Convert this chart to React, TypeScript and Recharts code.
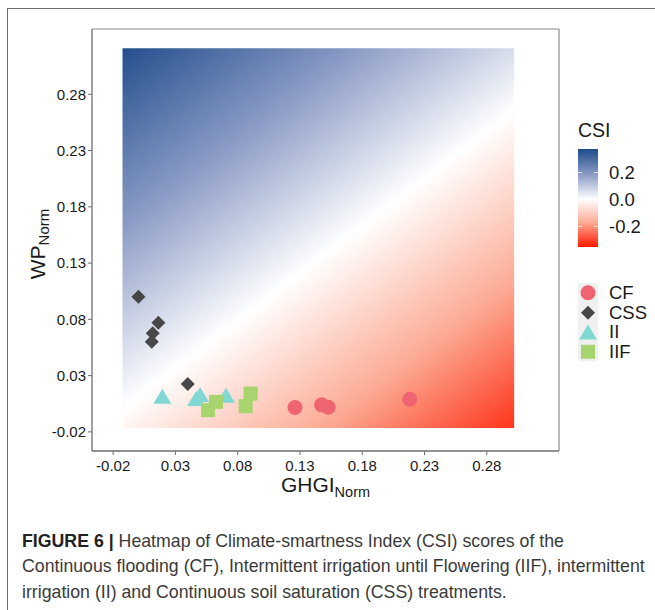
import React, { useLayoutEffect, useRef, useState } from 'react'
import { ScatterChart, Scatter, XAxis, YAxis, ReferenceArea } from 'recharts'

// treatment points (GHGI_Norm, WP_Norm)
const cfGhgi = [0.126, 0.1474, 0.1527, 0.2182]
const cfWp = [0.0016, 0.004, 0.0019, 0.009]
const cssGhgi = [0.0003, 0.0163, 0.0118, 0.011, 0.0399]
const cssWp = [0.1001, 0.077, 0.0676, 0.0601, 0.0226]
const iiGhgi = [0.0195, 0.0466, 0.0498, 0.0706]
const iiWp = [0.0113, 0.0093, 0.0128, 0.012]
const iifGhgi = [0.0562, 0.0626, 0.0864, 0.0904]
const iifWp = [-0.0007, 0.0066, 0.0028, 0.014]

const treatments = ['CF', 'CSS', 'II', 'IIF']
const axisTicks = [-0.02, 0.03, 0.08, 0.13, 0.18, 0.23, 0.28]
const borderTicks = [-0.02, 0.005, 0.03, 0.055, 0.08, 0.105, 0.13, 0.155, 0.18, 0.205, 0.23, 0.255, 0.28, 0.305, 0.33]
const domain: [number, number] = [-0.037, 0.338]

// heatmap extent and CSI at its top-left / bottom-right corners
const heatGhgi = [-0.0125, 0.302]
const heatWp = [-0.0165, 0.3208]
const heatCsi = [0.36, -0.317]

// colour scale of CSI
const csiValues = [0.368, 0.18, 0, -0.17, -0.35]
const csiColors = ['#1e4c8a', '#8c9cc6', '#ffffff', '#fcab95', '#ff1a00']
const csiRange = [0.368, -0.35]
const csiTicks = [0.2, 0, -0.2]

const captionLines = [
  'Heatmap of Climate-smartness Index (CSI) scores of the',
  'Continuous flooding (CF), Intermittent irrigation until Flowering (IIF), intermittent',
  'irrigation (II) and Continuous soil saturation (CSS) treatments.',
]

const COLORS = { CF: '#ee6470', CSS: '#474747', II: '#80d7d3', IIF: '#a7d46c' }

const hex = (c: string) => [1, 3, 5].map((i) => parseInt(c.slice(i, i + 2), 16))
function colorAt(v: number) {
  for (let i = 0; i < csiValues.length - 1; i++) {
    const a = csiValues[i]
    const b = csiValues[i + 1]
    if (v <= a && v >= b) {
      const t = (a - v) / (a - b)
      const ca = hex(csiColors[i])
      const cb = hex(csiColors[i + 1])
      return `rgb(${ca.map((x, k) => Math.round(x + (cb[k] - x) * t)).join(',')})`
    }
  }
  return v > csiValues[0] ? csiColors[0] : csiColors[csiColors.length - 1]
}

const heatStops = [heatCsi[0], ...csiValues.filter((v) => v < heatCsi[0] && v > heatCsi[1]), heatCsi[1]]

const toPts = (xs: number[], ys: number[]) => xs.map((x, i) => ({ x, y: ys[i] }))

const Circle = (p: any) => <circle cx={p.cx} cy={p.cy} r={7.5} fill={COLORS.CF} />
const Diamond = (p: any) => (
  <polygon points={`${p.cx},${p.cy - 7} ${p.cx + 7},${p.cy} ${p.cx},${p.cy + 7} ${p.cx - 7},${p.cy}`} fill={COLORS.CSS} />
)
const Triangle = (p: any) => (
  <polygon points={`${p.cx},${p.cy - 8} ${p.cx + 9},${p.cy + 7} ${p.cx - 9},${p.cy + 7}`} fill={COLORS.II} />
)
const Square = (p: any) => <rect x={p.cx - 7} y={p.cy - 7} width={14} height={14} fill={COLORS.IIF} />

const font = "'Liberation Sans', Arial, sans-serif"
const tickStyle = { fontSize: 15, fill: '#1a1a1a', fontFamily: font }

function LegendKey({ name }: { name: string }) {
  return (
    <svg width={20} height={19.5} style={{ display: 'block', background: '#f0f0f0' }}>
      {name === 'CF' && <Circle cx={10} cy={9.75} />}
      {name === 'CSS' && <Diamond cx={10} cy={9.75} />}
      {name === 'II' && <Triangle cx={10} cy={10.5} />}
      {name === 'IIF' && <Square cx={10} cy={9.75} />}
    </svg>
  )
}

// caption squeezed so the full-width line spans 22..645
function Caption() {
  const ref = useRef<SVGTextElement>(null)
  const [sx, setSx] = useState(1)
  useLayoutEffect(() => {
    if (ref.current) setSx(623 / ref.current.getComputedTextLength())
  }, [])
  return (
    <g transform={`translate(22,0) scale(${sx},1)`} fontFamily={font} fontSize={18} fill="#3a3a3a">
      <text x={0} y={547}>
        <tspan fontWeight="bold" fill="#222">FIGURE 6 | </tspan>
        {captionLines[0]}
      </text>
      <text ref={ref} x={0} y={572.5}>{captionLines[1]}</text>
      <text x={0} y={598}>{captionLines[2]}</text>
    </g>
  )
}

export default function App() {
  const barTop = 149.3
  const barH = 98
  const barY = (v: number) => barTop + ((csiRange[0] - v) / (csiRange[0] - csiRange[1])) * barH
  return (
    <div style={{ position: 'absolute', left: 0, top: 0, width: 655, height: 610, background: '#fff', overflow: 'hidden', fontFamily: font }}>
      <div style={{ position: 'absolute', left: 6.5, top: 8, width: 660, height: 610, borderLeft: '1.5px solid #6f6f6f', borderTop: '1.5px solid #6f6f6f' }} />
      <ScatterChart width={655} height={610} margin={{ top: 29, right: 96, bottom: 129, left: 32 }} style={{ position: 'absolute', left: 0, top: 0 }}>
        <defs>
          <linearGradient id="csiHeat" x1={0} y1={0} x2={0.868} y2={1.104}>
            {heatStops.map((v) => (
              <stop key={v} offset={(heatCsi[0] - v) / (heatCsi[0] - heatCsi[1])} stopColor={colorAt(v)} />
            ))}
          </linearGradient>
        </defs>
        <XAxis dataKey="x" type="number" domain={domain} ticks={axisTicks} allowDataOverflow height={30}
          tickFormatter={(v) => v.toFixed(2)} tick={tickStyle} tickSize={4} tickMargin={5}
          stroke="#6e6e6e" axisLine={{ stroke: '#6e6e6e', strokeWidth: 1.3 }} tickLine={{ stroke: '#6e6e6e' }} />
        <YAxis dataKey="y" type="number" domain={domain} ticks={axisTicks} allowDataOverflow width={60}
          tickFormatter={(v) => v.toFixed(2)} tick={tickStyle} tickSize={4} tickMargin={2}
          stroke="#6e6e6e" axisLine={{ stroke: '#6e6e6e', strokeWidth: 1.3 }} tickLine={{ stroke: '#6e6e6e' }} />
        <XAxis xAxisId="top" orientation="top" mirror type="number" domain={domain} ticks={borderTicks} allowDataOverflow
          tick={false} tickSize={2} axisLine={{ stroke: '#8a8a8a', strokeWidth: 1.2 }} tickLine={{ stroke: '#b5b5b5' }} />
        <YAxis yAxisId="right" orientation="right" mirror type="number" domain={domain} ticks={borderTicks} allowDataOverflow
          tick={false} tickSize={2} axisLine={{ stroke: '#8a8a8a', strokeWidth: 1.2 }} tickLine={{ stroke: '#b5b5b5' }} />
        <ReferenceArea x1={heatGhgi[0]} x2={heatGhgi[1]} y1={heatWp[0]} y2={heatWp[1]} fill="url(#csiHeat)" fillOpacity={1} stroke="none" />
        <Scatter name="CF" data={toPts(cfGhgi, cfWp)} shape={Circle} isAnimationActive={false} />
        <Scatter name="CSS" data={toPts(cssGhgi, cssWp)} shape={Diamond} isAnimationActive={false} />
        <Scatter name="II" data={toPts(iiGhgi, iiWp)} shape={Triangle} isAnimationActive={false} />
        <Scatter name="IIF" data={toPts(iifGhgi, iifWp)} shape={Square} isAnimationActive={false} />
      </ScatterChart>

      <svg width={655} height={610} style={{ position: 'absolute', left: 0, top: 0, pointerEvents: 'none' }}>
        <text transform="translate(45,244) rotate(-90)" textAnchor="middle" fontSize={21} fill="#1a1a1a" fontFamily={font}>
          WP<tspan fontSize={15} dy={4}>Norm</tspan>
        </text>
        <text x={325.5} y={492} textAnchor="middle" fontSize={21} fill="#1a1a1a" fontFamily={font}>
          GHGI<tspan fontSize={14.5} dy={5}>Norm</tspan>
        </text>
        <text x={578} y={137} fontSize={19.5} fill="#1a1a1a" fontFamily={font}>CSI</text>
        {csiTicks.map((v) => (
          <text key={v} x={609} y={barY(v)} dy="0.36em" fontSize={18.5} fill="#1a1a1a" fontFamily={font}>
            {v.toFixed(1)}
          </text>
        ))}
        {treatments.map((t, i) => (
          <text key={t} x={609} y={283 + i * 19.5 + 9.75} dy="0.36em" fontSize={18.5} fill="#1a1a1a" fontFamily={font}>
            {t}
          </text>
        ))}
        <Caption />
      </svg>

      <div style={{ position: 'absolute', left: 578, top: barTop, width: 20, height: barH,
        background: `linear-gradient(to bottom, ${csiValues.map((v, i) => `${csiColors[i]} ${((csiRange[0] - v) / (csiRange[0] - csiRange[1])) * 100}%`).join(', ')})` }}>
        {csiTicks.map((v) => (
          <React.Fragment key={v}>
            <div style={{ position: 'absolute', left: 0, top: barY(v) - barTop - 0.5, width: 4, height: 1, background: 'rgba(255,255,255,0.7)' }} />
            <div style={{ position: 'absolute', right: 0, top: barY(v) - barTop - 0.5, width: 4, height: 1, background: 'rgba(255,255,255,0.7)' }} />
          </React.Fragment>
        ))}
      </div>
      <div style={{ position: 'absolute', left: 578, top: 283 }}>
        {treatments.map((t) => (
          <LegendKey key={t} name={t} />
        ))}
      </div>
    </div>
  )
}
